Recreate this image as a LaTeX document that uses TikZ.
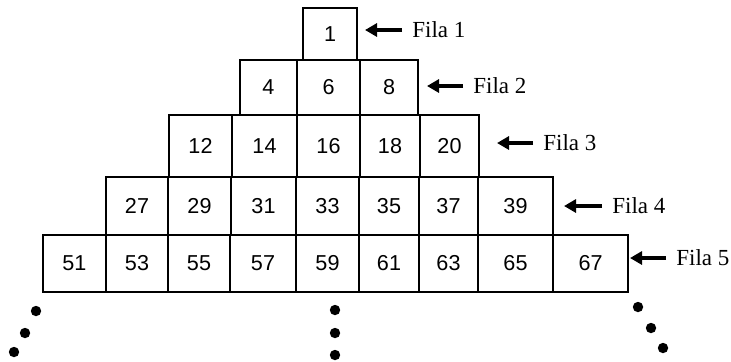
\documentclass[tikz,border=0pt]{standalone}
\usepackage{fontspec}
\setmainfont{Liberation Serif}
\newfontfamily\numfont{Liberation Sans}
\usetikzlibrary{arrows.meta}
\tikzset{my cell/.style={draw, line width=0.7pt, inner sep=0pt, minimum height=28pt, font=\numfont\fontsize{10.8}{12}\selectfont},
my row/.style={anchor=west, inner sep=0pt, font=\fontsize{11.5}{13}\selectfont},
my pointer/.style={line width=2pt, -{Triangle[length=6pt,width=6.5pt]}},}

\begin{document}
\begin{tikzpicture}[x=0.5pt,y=-0.5pt]
\useasboundingbox (0,0) rectangle (731,361);
% fila 1
\node [my cell, minimum width=27pt, minimum height=26pt] (c1) at (330,34) {1};
% fila 2
\node [my cell, minimum width=28.5pt, minimum height=27.5pt] (c4) at (268.5,87.5) {4};
\node [my cell, minimum width=31.5pt, minimum height=27.5pt] (c6) at (328.5,87.5) {6};
\node [my cell, minimum width=29pt, minimum height=27.5pt] (c8) at (389,87.5) {8};
% fila 3
\node [my cell, minimum width=31.5pt, minimum height=31pt] (c12) at (200.5,146) {12};
\node [my cell, minimum width=32.5pt, minimum height=31pt] (c14) at (264.5,146) {14};
\node [my cell, minimum width=31.5pt, minimum height=31pt] (c16) at (328.5,146) {16};
\node [my cell, minimum width=30pt, minimum height=31pt] (c18) at (390,146) {18};
\node [my cell, minimum width=29.5pt, minimum height=31pt] (c20) at (449.5,146) {20};
% fila 4
\node [my cell, minimum width=31pt, minimum height=29pt] (c27) at (137,206) {27};
\node [my cell, minimum width=31.5pt, minimum height=29pt] (c29) at (199.5,206) {29};
\node [my cell, minimum width=32.5pt, minimum height=29pt] (c31) at (263.5,206) {31};
\node [my cell, minimum width=31.5pt, minimum height=29pt] (c33) at (327.5,206) {33};
\node [my cell, minimum width=30pt, minimum height=29pt] (c35) at (389,206) {35};
\node [my cell, minimum width=29.5pt, minimum height=29pt] (c37) at (448.5,206) {37};
\node [my cell, minimum width=37.5pt, minimum height=29pt] (c39) at (515.5,206) {39};
% fila 5
\node [my cell, minimum width=31.5pt, minimum height=28.5pt] (c51) at (74.5,263.5) {51};
\node [my cell, minimum width=31pt, minimum height=28.5pt] (c53) at (137,263.5) {53};
\node [my cell, minimum width=31pt, minimum height=28.5pt] (c55) at (199,263.5) {55};
\node [my cell, minimum width=33pt, minimum height=28.5pt] (c57) at (263,263.5) {57};
\node [my cell, minimum width=31.5pt, minimum height=28.5pt] (c59) at (327.5,263.5) {59};
\node [my cell, minimum width=30pt, minimum height=28.5pt] (c61) at (389,263.5) {61};
\node [my cell, minimum width=29.5pt, minimum height=28.5pt] (c63) at (448.5,263.5) {63};
\node [my cell, minimum width=37.5pt, minimum height=28.5pt] (c65) at (515.5,263.5) {65};
\node [my cell, minimum width=37.5pt, minimum height=28.5pt] (c67) at (590.5,263.5) {67};
% etiquetas
\node [my row] (f1) at (412,30) {Fila 1};
\node [my row] (f2) at (473,86) {Fila 2};
\node [my row] (f3) at (543,143) {Fila 3};
\node [my row] (f4) at (612,206) {Fila 4};
\node [my row] (f5) at (676,258) {Fila 5};
\coordinate (t1) at (365,30);
\coordinate (t2) at (427,86);
\coordinate (t3) at (497,143);
\coordinate (t4) at (564,206);
\coordinate (t5) at (630,258);
\foreach \k in {1,...,5}
  \draw [my pointer] ([xshift=-5pt]f\k.west) -- (t\k);
% puntos
\foreach \p in {(36,311),(25,333),(14,352),(335,310),(335,333),(335,355),(638,307),(651,328),(663,348)}
  \fill \p circle (2.6pt);
\end{tikzpicture}
\end{document}
